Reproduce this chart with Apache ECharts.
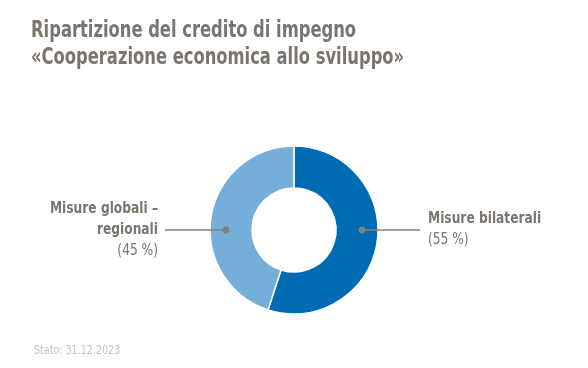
<!DOCTYPE html>
<html><head><meta charset="utf-8">
<style>html,body{margin:0;padding:0;background:#fff}#c{width:588px;height:368px}</style>
<script src="https://cdn.jsdelivr.net/npm/echarts@6/dist/echarts.min.js"></script>
</head><body><div id="c"></div>
<script>
var titleLines = ['Ripartizione del credito di impegno', '«Cooperazione economica allo sviluppo»'];
var categories = ['Misure bilaterali', 'Misure globali –\nregionali'];
var values = [55, 45];
var percentLabels = ['(55 %)', '(45 %)'];
var colors = ['#006bb5', '#75aed9'];
var footnote = 'Stato: 31.12.2023';

var CX = 294, CY = 230, R0 = 42, R1 = 84, RD = 68;
var chart = echarts.init(document.getElementById('c'));
var TXT = '#7b756e';
var LINE = '#847f79';
var FONT = '"Liberation Sans Narrow", "DejaVu Sans Condensed", sans-serif';
var SX = 0.85;

function labelText(i) {
  var lines = categories[i].split('\n').map(function (s) { return '{b|' + s + '}'; });
  lines.push('{p|' + percentLabels[i] + '}');
  return lines.join('\n');
}
var rich = {
  b: { fontFamily: FONT, fontWeight: 'bold', fontSize: 16, fill: TXT, lineHeight: 21 },
  p: { fontFamily: FONT, fontWeight: 'normal', fontSize: 16, fill: TXT, lineHeight: 21 }
};

chart.setOption({
  animation: false,
  graphic: [
    { type: 'text', x: 31, y: 18, scaleX: 0.79,
      style: { text: titleLines.join('\n'), fill: TXT, fontFamily: FONT, fontWeight: 'bold', fontSize: 23, lineHeight: 27 } },
    { type: 'line', shape: { x1: CX + RD, y1: CY, x2: CX + R1 + 42, y2: CY }, style: { stroke: LINE, lineWidth: 1.5 }, z: 100 },
    { type: 'line', shape: { x1: CX - RD, y1: CY, x2: CX - R1 - 45, y2: CY }, style: { stroke: LINE, lineWidth: 1.5 }, z: 100 },
    { type: 'circle', shape: { cx: CX + RD, cy: CY, r: 3.4 }, style: { fill: LINE }, z: 101 },
    { type: 'circle', shape: { cx: CX - RD, cy: CY, r: 3.4 }, style: { fill: LINE }, z: 101 },
    { type: 'text', x: CX + R1 + 50, y: CY - 1, scaleX: SX,
      style: { text: labelText(0), rich: rich, align: 'left', verticalAlign: 'middle' }, z: 100 },
    { type: 'text', x: CX - R1 - 52, y: CY, scaleX: SX,
      style: { text: labelText(1), rich: rich, align: 'right', verticalAlign: 'middle' }, z: 100 },
    { type: 'text', x: 34, y: 344, scaleX: SX,
      style: { text: footnote, fill: '#c3c3c3', fontFamily: FONT, fontSize: 12.5 } }
  ],
  series: [{
    type: 'pie',
    center: [CX, CY],
    radius: [R0, R1],
    startAngle: 90,
    clockwise: true,
    itemStyle: { borderColor: '#fff', borderWidth: 1.5 },
    label: { show: false },
    labelLine: { show: false },
    data: categories.map(function (c, i) {
      return { name: c, value: values[i], itemStyle: { color: colors[i] } };
    })
  }]
});
</script></body></html>
